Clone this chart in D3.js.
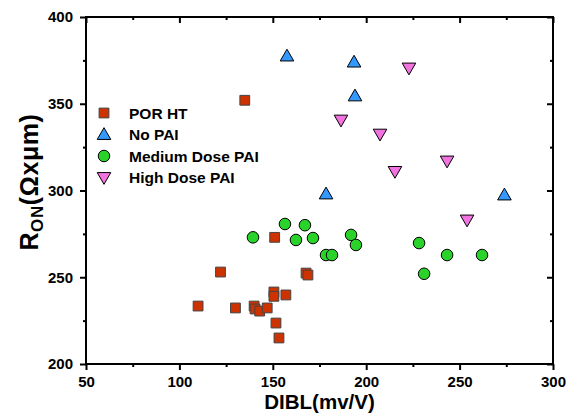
<!DOCTYPE html>
<html><head><meta charset="utf-8">
<script src="https://cdn.jsdelivr.net/npm/d3@7"></script>
<style>
body{margin:0;background:#fff;}
svg text{font-family:"Liberation Sans",Arial,sans-serif;font-weight:bold;fill:#000;}
</style></head>
<body><svg id="c" width="574" height="419"></svg>
<script>
// Data
const seriesNames = ["POR HT", "No PAI", "Medium Dose PAI", "High Dose PAI"];
const porHtX = [110, 122, 130, 140, 140.5, 143, 147, 151, 150.6, 150.6, 151.7, 153.3, 157, 167.8, 168.8, 135];
const porHtY = [233.4, 253, 232.3, 233.4, 231.7, 230.5, 232.3, 273, 241.5, 239, 223.6, 215, 239.8, 252.4, 251.3, 352];
const noPaiX = [157.6, 193.5, 194, 178.5, 274];
const noPaiY = [377.5, 374, 354.5, 298, 297.4];
const medX = [139.4, 156.5, 162.4, 167.2, 171.5, 178.5, 181.7, 191.9, 194.5, 228.3, 231, 243.3, 262];
const medY = [273, 280.7, 271.5, 280, 272.6, 262.8, 262.8, 274.4, 268.6, 269.7, 252, 262.8, 262.8];
const highX = [222.9, 186.5, 207.4, 215.4, 243.3, 254];
const highY = [370.6, 340.6, 332.5, 311, 317, 283];
const xTicks = [50, 100, 150, 200, 250, 300];
const yTicks = [200, 250, 300, 350, 400];

const svg = d3.select("#c");
const L = 86, R = 553, T = 17, B = 364;
const x = d3.scaleLinear().domain([50, 300]).range([L, R]);
const y = d3.scaleLinear().domain([200, 400]).range([B, T]);

const styles = [
  {fill: "#CC3300", stroke: "#444", shape: "square"},
  {fill: "#3399FF", stroke: "#000", shape: "up"},
  {fill: "#2AD32A", stroke: "#000", shape: "circle"},
  {fill: "#F272E0", stroke: "#000", shape: "down"}
];
function sym(shape) {
  if (shape === "square") return d3.symbol().type(d3.symbolSquare).size(96)();
  if (shape === "circle") return d3.symbol().type(d3.symbolCircle).size(105)();
  return d3.symbol().type(d3.symbolTriangle).size(80)();
}
function addMarker(g, cx, cy, st) {
  const p = g.append("path").attr("d", sym(st.shape))
    .attr("fill", st.fill).attr("stroke", st.stroke).attr("stroke-width", 1);
  let tr = `translate(${cx},${cy})`;
  if (st.shape === "up") tr += " translate(0,1)";
  if (st.shape === "down") tr += " translate(0,-1) rotate(180)";
  p.attr("transform", tr);
}

// axes (box)
const minorX = d3.range(75, 300, 50);
const minorY = d3.range(225, 400, 50);
const ax = svg.append("g");
ax.append("g").attr("transform", `translate(0,${B})`)
  .call(d3.axisBottom(x).tickValues(xTicks).tickSize(6).tickPadding(6).tickFormat(d3.format("d")));
ax.append("g").attr("transform", `translate(0,${B})`)
  .call(d3.axisBottom(x).tickValues(minorX).tickSize(3).tickFormat(""));
ax.append("g").attr("transform", `translate(${L},0)`)
  .call(d3.axisLeft(y).tickValues(yTicks).tickSize(6).tickPadding(7).tickFormat(d3.format("d")));
ax.append("g").attr("transform", `translate(${L},0)`)
  .call(d3.axisLeft(y).tickValues(minorY).tickSize(3).tickFormat(""));
ax.append("g").attr("transform", `translate(0,${T})`)
  .call(d3.axisBottom(x).tickValues(xTicks).tickSize(6).tickFormat(""));
ax.append("g").attr("transform", `translate(0,${T})`)
  .call(d3.axisBottom(x).tickValues(minorX).tickSize(3).tickFormat(""));
ax.append("g").attr("transform", `translate(${R},0)`)
  .call(d3.axisLeft(y).tickValues(yTicks).tickSize(6).tickFormat(""));
ax.append("g").attr("transform", `translate(${R},0)`)
  .call(d3.axisLeft(y).tickValues(minorY).tickSize(3).tickFormat(""));
ax.selectAll(".domain").remove();
ax.selectAll(".tick line").attr("stroke", "#000").attr("stroke-width", 2);
ax.selectAll(".tick text").attr("font-size", null)
  .style("font-size", "15px").style("font-family", "'Liberation Sans',Arial,sans-serif").style("font-weight", "bold");
svg.append("rect").attr("x", L).attr("y", T).attr("width", R - L).attr("height", B - T)
  .attr("fill", "none").attr("stroke", "#000").attr("stroke-width", 2);

// data points
const groups = [[porHtX, porHtY], [noPaiX, noPaiY], [medX, medY], [highX, highY]];
const pts = svg.append("g");
groups.forEach((gxy, i) => {
  gxy[0].forEach((xv, j) => addMarker(pts, x(xv), y(gxy[1][j]), styles[i]));
});

// legend
const lg = svg.append("g");
const rowsY = [113, 134.5, 156, 177.5];
seriesNames.forEach((n, i) => {
  addMarker(lg, 104, rowsY[i], styles[i]);
  lg.append("text").attr("x", 129).attr("y", rowsY[i]).attr("dy", "0.36em")
    .style("font-size", "15.5px").text(n);
});

// axis titles
svg.append("text").attr("x", (L + R) / 2).attr("y", 409).attr("text-anchor", "middle")
  .style("font-size", "20.5px").text("DIBL(mv/V)");
const yt = svg.append("text").attr("transform", "translate(38,182) rotate(-90)")
  .attr("text-anchor", "middle").style("font-size", "25px").style("letter-spacing", "0.6px");
yt.append("tspan").text("R");
yt.append("tspan").attr("dy", "0.3em").style("font-size", "17px").text("ON");
yt.append("tspan").attr("dy", "-0.2em").text("(Ωxμm)");
</script>
</body></html>
